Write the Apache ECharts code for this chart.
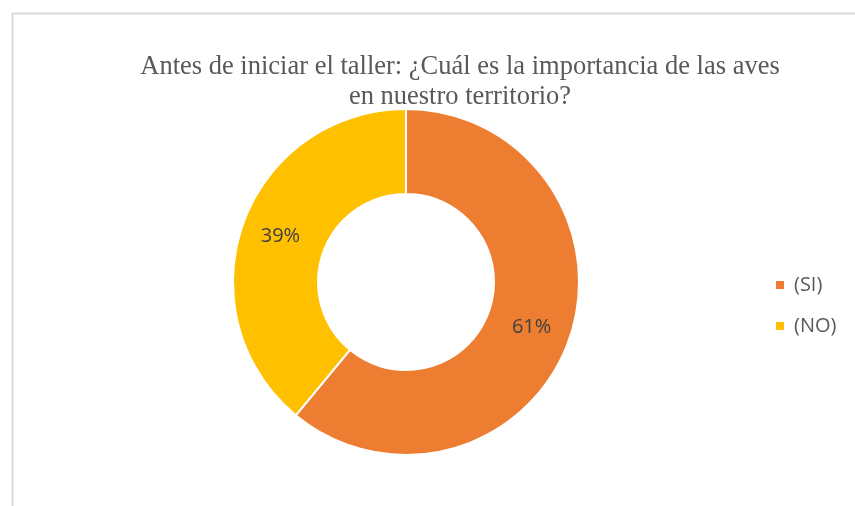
<!DOCTYPE html>
<html><head><meta charset="utf-8">
<script src="https://cdn.jsdelivr.net/npm/echarts@6/dist/echarts.min.js"></script>
<style>html,body{margin:0;padding:0;background:#fff}#c{width:855px;height:506px}</style>
</head><body><div id="c"></div>
<script>
const titleText = 'Antes de iniciar el taller: ¿Cuál es la importancia de las aves\nen nuestro territorio?';
const categories = ['(SI)', '(NO)'];
const values = [61, 39];
const colors = ['#ED7D31', '#FFC000'];

const chart = echarts.init(document.getElementById('c'), null, {renderer: 'canvas'});
chart.setOption({
  animation: false,
  backgroundColor: '#fff',
  graphic: [{
    type: 'polyline',
    shape: {points: [[12.5, 506], [12.5, 13.5], [855, 13.5]]},
    style: {stroke: '#d9d9d9', lineWidth: 2, fill: null}
  }],
  title: {
    text: titleText,
    left: 455, top: 47, textAlign: 'center',
    textStyle: {fontFamily: 'Liberation Serif', fontWeight: 'normal', fontSize: 26.5, color: '#595959', lineHeight: 30}
  },
  legend: {
    orient: 'vertical', left: 769, top: 270, itemGap: 21,
    itemWidth: 10, itemHeight: 10, icon: 'rect',
    textStyle: {fontFamily: 'Open Sans', fontSize: 20, color: '#595959', padding: [0, 0, 0, 4]},
    data: categories
  },
  series: [{
    type: 'pie',
    center: [406, 282], radius: [88, 173],
    startAngle: 90, clockwise: true,
    itemStyle: {borderColor: '#fff', borderWidth: 2},
    label: {position: 'inside', formatter: '{d}%', fontFamily: 'Open Sans', fontSize: 20, color: '#404040'},
    labelLine: {show: false},
    data: categories.map((c, i) => ({name: c, value: values[i], itemStyle: {color: colors[i]}}))
  }]
});
</script></body></html>
